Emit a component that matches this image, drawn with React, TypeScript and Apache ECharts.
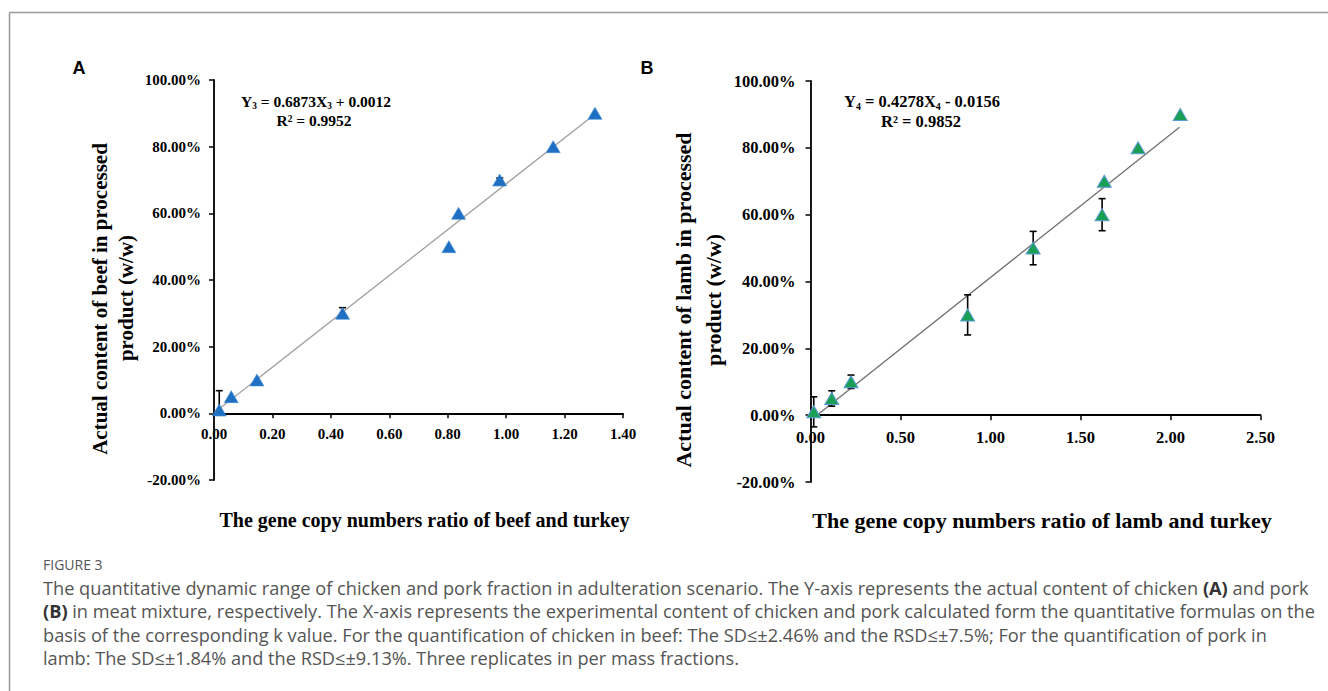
import React, { useEffect, useRef } from "react";
import * as echarts from "echarts";

// ---------- data ----------
const aX = [0.018, 0.059, 0.147, 0.44, 0.804, 0.837, 0.978, 1.161, 1.304];
const aY = [0.01, 0.05, 0.1, 0.3, 0.5, 0.6, 0.7, 0.8, 0.9];
const aErrUp = [0.058, 0, 0, 0.017, 0, 0, 0.006, 0, 0];
const aErrDown = [0, 0, 0, 0, 0, 0, 0, 0, 0];

const bX = [0.018, 0.118, 0.225, 0.873, 1.237, 1.62, 1.632, 1.82, 2.054];
const bY = [0.01, 0.05, 0.1, 0.3, 0.5, 0.6, 0.7, 0.8, 0.9];
const bErrUp = [0.045, 0.023, 0.02, 0.06, 0.05, 0.048, 0, 0, 0];
const bErrDown = [0.045, 0.023, 0.02, 0.06, 0.05, 0.048, 0, 0, 0];

const aFit = { slope: 0.6873, intercept: 0.0012 };
const bFit = { slope: 0.4278, intercept: -0.0156 };
const aFitRange = [0.015, 1.31];
const bFitRange = [0.036, 2.05];

const aXTicks = { min: 0, max: 1.4, interval: 0.2 };
const bXTicks = { min: 0, max: 2.5, interval: 0.5 };
const yTicks = { min: -0.2, max: 1.0, interval: 0.2 };

const captionLines = [
  "The quantitative dynamic range of chicken and pork fraction in adulteration scenario. The Y-axis represents the actual content of chicken {b|(A)} and pork",
  "{b|(B)} in meat mixture, respectively. The X-axis represents the experimental content of chicken and pork calculated form the quantitative formulas on the",
  "basis of the corresponding k value. For the quantification of chicken in beef: The SD≤±2.46% and the RSD≤±7.5%; For the quantification of pork in",
  "lamb: The SD≤±1.84% and the RSD≤±9.13%. Three replicates in per mass fractions.",
];

const SERIF = "'Liberation Serif', 'Times New Roman', serif";
const SANS = "'Open Sans', 'Noto Sans', sans-serif";

function App() {
  const ref = useRef<HTMLDivElement>(null);
  useEffect(() => {
    if (!ref.current) return;
    const chart = echarts.init(ref.current, undefined, { renderer: "svg" });

    const pts = (xs: number[], ys: number[]) => xs.map((x, i) => [x, ys[i]]);
    const errs = (xs: number[], ys: number[], up: number[], dn: number[]) =>
      xs
        .map((x, i) => [x, ys[i], ys[i] - dn[i], ys[i] + up[i]])
        .filter((d) => d[3] - d[2] > 0);
    const fitLine = (f: { slope: number; intercept: number }, r: number[]) =>
      r.map((x) => [x, f.slope * x + f.intercept]);

    const errRender = (params: any, api: any) => {
      const x = api.value(0);
      const y = api.value(1);
      const lo = api.value(2);
      const hi = api.value(3);
      const top = api.coord([x, hi]);
      const bot = api.coord([x, lo]);
      const w = 3.5;
      const st = { stroke: "#000", lineWidth: 1.6 };
      const children: any[] = [
        { type: "line", shape: { x1: top[0], y1: top[1], x2: bot[0], y2: bot[1] }, style: st },
      ];
      if (hi > y) children.push({ type: "line", shape: { x1: top[0] - w, y1: top[1], x2: top[0] + w, y2: top[1] }, style: st });
      if (lo < y) children.push({ type: "line", shape: { x1: bot[0] - w, y1: bot[1], x2: bot[0] + w, y2: bot[1] }, style: st });
      return { type: "group", children };
    };

    // x axis sits at y = 0: offset it up from the grid bottom by the share of the range below zero
    const zeroOffset = (h: number) => -h * ((0 - yTicks.min) / (yTicks.max - yTicks.min));

    const xAxisCfg = (gi: number, t: any, fs: number, margin: number, gridH: number) => ({
      type: "value",
      gridIndex: gi,
      min: t.min,
      max: t.max,
      interval: t.interval,
      offset: zeroOffset(gridH),
      axisLine: { onZero: false, lineStyle: { color: "#000", width: 1.8 } },
      axisTick: { show: true, length: 5, lineStyle: { color: "#000", width: 1.5 } },
      axisLabel: {
        formatter: (v: number) => v.toFixed(2),
        fontFamily: SERIF,
        fontWeight: "bold",
        fontSize: fs,
        color: "#000",
        margin,
      },
      splitLine: { show: false },
    });
    const yAxisCfg = (gi: number, fs: number, margin: number) => ({
      type: "value",
      gridIndex: gi,
      min: yTicks.min,
      max: yTicks.max,
      interval: yTicks.interval,
      axisLine: { show: true, onZero: false, lineStyle: { color: "#000", width: 1.8 } },
      axisTick: { show: true, length: 5, lineStyle: { color: "#000", width: 1.5 } },
      axisLabel: {
        formatter: (v: number) => (Math.round(v * 10000) / 100).toFixed(2) + "%",
        fontFamily: SERIF,
        fontWeight: "bold",
        fontSize: fs,
        color: "#000",
        margin,
      },
      splitLine: { show: false },
    });

    const eq = (x: number, y: number, parts: any[], fs: number) => ({
      type: "text",
      x,
      y,
      style: {
        text: parts.join(""),
        rich: {
          m: { fontFamily: SERIF, fontWeight: "bold", fontSize: fs, lineHeight: fs + 4, fill: "#000", verticalAlign: "middle" },
          s: { fontFamily: SERIF, fontWeight: "bold", fontSize: fs * 0.6, lineHeight: fs * 0.6, fill: "#000", verticalAlign: "bottom" },
        },
        textAlign: "center",
        textVerticalAlign: "middle",
      },
    });

    const txt = (x: number, y: number, text: string, font: string, extra: any = {}) => ({
      type: "text",
      x,
      y,
      ...extra,
      style: { text, font, fill: "#000", textAlign: "center", textVerticalAlign: "middle" },
    });

    const gA = { left: 214, top: 80, width: 409, height: 400 };
    const gB = { left: 810.5, top: 81, width: 450, height: 401 };

    const option: any = {
      animation: false,
      backgroundColor: "#fff",
      grid: [gA, gB],
      xAxis: [xAxisCfg(0, aXTicks, 15, 13, gA.height), xAxisCfg(1, bXTicks, 16.5, 14, gB.height)],
      yAxis: [yAxisCfg(0, 15, 13), yAxisCfg(1, 16.5, 15)],
      series: [
        {
          type: "line",
          xAxisIndex: 0,
          yAxisIndex: 0,
          data: fitLine(aFit, aFitRange),
          showSymbol: false,
          lineStyle: { color: "#a0a0a0", width: 1.3 },
          z: 1,
        },
        {
          type: "custom",
          xAxisIndex: 0,
          yAxisIndex: 0,
          data: errs(aX, aY, aErrUp, aErrDown),
          renderItem: errRender,
          z: 2,
        },
        {
          type: "scatter",
          xAxisIndex: 0,
          yAxisIndex: 0,
          data: pts(aX, aY),
          symbol: "triangle",
          symbolSize: [14, 12],
          itemStyle: { color: "#1f6fc3", borderColor: "#4a8fd6", borderWidth: 0.6, opacity: 1 },
          z: 3,
        },
        {
          type: "line",
          xAxisIndex: 1,
          yAxisIndex: 1,
          data: fitLine(bFit, bFitRange),
          showSymbol: false,
          lineStyle: { color: "#707070", width: 1.3 },
          z: 1,
        },
        {
          type: "custom",
          xAxisIndex: 1,
          yAxisIndex: 1,
          data: errs(bX, bY, bErrUp, bErrDown),
          renderItem: errRender,
          z: 2,
        },
        {
          type: "scatter",
          xAxisIndex: 1,
          yAxisIndex: 1,
          data: pts(bX, bY),
          symbol: "triangle",
          symbolSize: [14, 12],
          itemStyle: { color: "#1a9f55", borderColor: "#5b9bd5", borderWidth: 1, opacity: 1 },
          z: 3,
        },
      ],
      graphic: [
        // frame
        { type: "line", shape: { x1: 9.5, y1: 12.5, x2: 1328, y2: 12.5 }, style: { stroke: "#9a9a9a", lineWidth: 1.5 } },
        { type: "line", shape: { x1: 9.5, y1: 12.5, x2: 9.5, y2: 691 }, style: { stroke: "#9a9a9a", lineWidth: 1.5 } },
        // panel letters
        txt(79, 68, "A", `bold 18px 'Liberation Sans', Arial, sans-serif`),
        txt(647, 68, "B", `bold 18px 'Liberation Sans', Arial, sans-serif`),
        // equations
        eq(316, 101, ["{m|Y}", "{s|3}", "{m| = 0.6873X}", "{s|3}", "{m| + 0.0012}"], 15.5),
        eq(314, 120, ["{m|R² = 0.9952}"], 15.5),
        eq(922, 101, ["{m|Y}", "{s|4}", "{m| = 0.4278X}", "{s|4}", "{m| - 0.0156}"], 16.5),
        eq(921, 121, ["{m|R² = 0.9852}"], 16.5),
        // axis titles A
        txt(100, 299, "Actual content of beef in processed", `bold 21px ${SERIF}`, { rotation: Math.PI / 2 }),
        txt(126, 298, "product (w/w)", `bold 21px ${SERIF}`, { rotation: Math.PI / 2 }),
        txt(424.5, 520, "The gene copy numbers ratio of beef and turkey", `bold 20px ${SERIF}`),
        // axis titles B
        txt(683, 300, "Actual content of lamb in processed", `bold 22px ${SERIF}`, { rotation: Math.PI / 2 }),
        txt(713, 300, "product (w/w)", `bold 22px ${SERIF}`, { rotation: Math.PI / 2 }),
        txt(1042, 520, "The gene copy numbers ratio of lamb and turkey", `bold 22px ${SERIF}`),
        // caption
        {
          type: "text",
          x: 43,
          y: 564,
          style: { text: "FIGURE 3", font: `14px ${SANS}`, fill: "#555", textVerticalAlign: "middle" },
        },
        ...captionLines.map((line, i) => ({
          type: "text",
          x: 43,
          y: 588 + i * 23.3,
          style: {
            text: line,
            fontFamily: SANS,
            fontSize: 18.2,
            fill: "#555",
            textVerticalAlign: "middle",
            rich: {
              b: { fontFamily: SANS, fontSize: 18.2, fontWeight: "bold", fill: "#333" },
            },
          },
        })),
      ],
    };
    chart.setOption(option);
    return () => chart.dispose();
  }, []);
  return (
    <div
      ref={ref}
      style={{ position: "absolute", left: 0, top: 0, width: 1328, height: 691, background: "#fff" }}
    />
  );
}

export default App;
